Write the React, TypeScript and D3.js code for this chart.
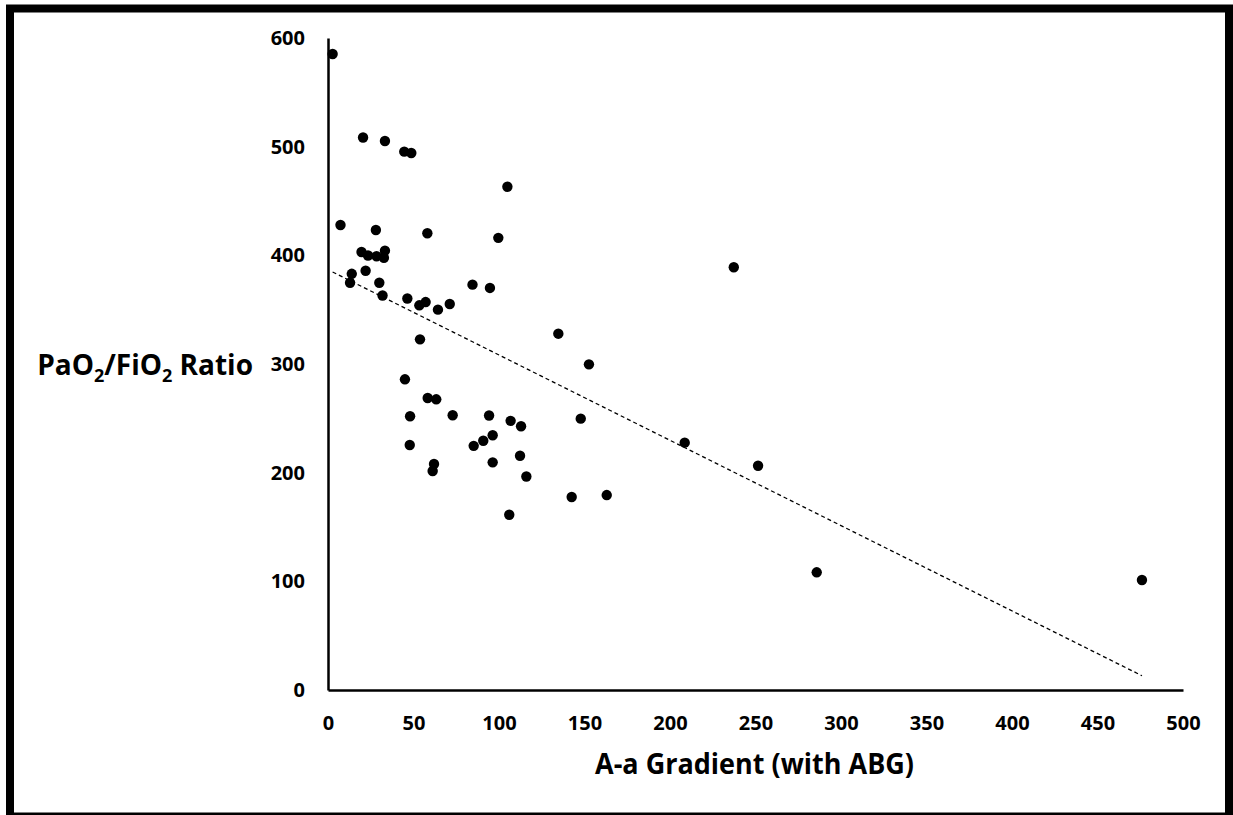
import * as d3 from 'd3';
import { useEffect, useRef } from 'react';

// A-a gradient (x) and PaO2/FiO2 ratio (y), one entry per patient
const gradientValues = [
  2.7, 20.5, 33.3, 44.6, 48.7, 7.3, 28, 104.9, 58.1, 99.6,
  19.6, 23.4, 28.4, 33.3, 32.7, 22, 13.9, 12.9, 30, 31.9,
  46.4, 53.4, 57.1, 64.3, 71.2, 84.5, 94.7, 53.8, 45, 58.3,
  63.3, 48, 72.9, 94.2, 106.8, 112.9, 96.3, 90.8, 85.2, 47.8,
  112.3, 96.3, 62, 61.2, 116, 134.7, 152.6, 147.8, 208.6, 142.5,
  163, 106, 237.3, 251.5, 285.8, 476,
];
const ratioValues = [
  585.3, 508.4, 505.2, 495.4, 494.2, 427.9, 423.3, 463.1, 420.3, 416.1,
  403.1, 399.8, 399.2, 404.3, 397.8, 385.8, 383, 374.8, 374.8, 363,
  360.3, 354, 357, 350, 355.2, 373, 370, 322.7, 285.9, 268.7,
  267.5, 251.9, 252.8, 252.6, 247.7, 242.7, 234.4, 229.4, 224.7, 225.5,
  215.6, 209.5, 208, 201.5, 196.5, 327.9, 299.7, 249.7, 227.6, 177.6,
  179.4, 161.3, 389, 206.4, 108.3, 101.2,
];

const xTicks = [0, 50, 100, 150, 200, 250, 300, 350, 400, 450, 500];
const yTicks = [0, 100, 200, 300, 400, 500, 600];

// linear trendline as drawn in the chart
const trendIntercept = 386.8;
const trendSlope = -0.785;

const xTitle = 'A-a Gradient (with ABG)';
const FONT = '"Open Sans", "DejaVu Sans", sans-serif';

export default function App() {
  const ref = useRef<SVGSVGElement>(null);

  useEffect(() => {
    const svg = d3.select(ref.current);
    svg.selectAll('*').remove();

    const width = 1233;
    const height = 815;

    const x = d3.scaleLinear().domain([0, 500]).range([328, 1183]);
    const y = d3.scaleLinear().domain([0, 600]).range([690, 38]);

    svg.append('rect')
      .attr('width', width)
      .attr('height', height)
      .attr('fill', '#fff');

    // outer frame
    svg.append('rect')
      .attr('x', 10)
      .attr('y', 8.5)
      .attr('width', 1219)
      .attr('height', 808)
      .attr('fill', 'none')
      .attr('stroke', '#000')
      .attr('stroke-width', 8);

    const styleAxis = (axis) => {
      axis.select('.domain').attr('stroke', '#000').attr('stroke-width', 2.5);
      axis.selectAll('.tick line').remove();
      axis.selectAll('text')
        .attr('font-family', FONT)
        .attr('font-weight', 700)
        .attr('font-size', 20)
        .attr('fill', '#000');
    };

    svg.append('g')
      .attr('transform', `translate(0,${y(0)})`)
      .call(d3.axisBottom(x).tickValues(xTicks).tickSize(0).tickPadding(26))
      .call(styleAxis);

    svg.append('g')
      .attr('transform', `translate(${x(0)},0)`)
      .call(d3.axisLeft(y).tickValues(yTicks).tickSize(0).tickPadding(23))
      .call(styleAxis);

    const xMin = d3.min(gradientValues) || 0;
    const xMax = d3.max(gradientValues) || 0;
    const trend = d3.line<number>()
      .x((v) => x(v))
      .y((v) => y(trendIntercept + trendSlope * v));

    svg.append('path')
      .attr('d', trend([xMin, xMax]))
      .attr('fill', 'none')
      .attr('stroke', '#000')
      .attr('stroke-width', 1.3)
      .attr('stroke-dasharray', '4,3');

    svg.append('g')
      .selectAll('circle')
      .data(gradientValues.map((g, i) => [g, ratioValues[i]]))
      .enter()
      .append('circle')
      .attr('cx', (d) => x(d[0]))
      .attr('cy', (d) => y(d[1]))
      .attr('r', 5.2)
      .attr('fill', '#000');

    svg.append('text')
      .attr('x', 754.5)
      .attr('y', 774)
      .attr('text-anchor', 'middle')
      .attr('font-family', FONT)
      .attr('font-weight', 700)
      .attr('font-size', 29)
      .attr('textLength', 319)
      .attr('lengthAdjust', 'spacingAndGlyphs')
      .text(xTitle);

    const yTitle = svg.append('text')
      .attr('x', 253)
      .attr('y', 375)
      .attr('text-anchor', 'end')
      .attr('font-family', FONT)
      .attr('font-weight', 700)
      .attr('font-size', 28)
      .attr('fill', '#000');
    yTitle.append('tspan').text('PaO');
    yTitle.append('tspan').attr('font-size', 18).attr('dy', 7).text('2');
    yTitle.append('tspan').attr('dy', -7).text('/FiO');
    yTitle.append('tspan').attr('font-size', 18).attr('dy', 7).text('2');
    yTitle.append('tspan').attr('dy', -7).text(' Ratio');
  }, []);

  return (
    <svg
      ref={ref}
      width={1233}
      height={815}
      style={{ position: 'absolute', left: 0, top: 0 }}
    />
  );
}
